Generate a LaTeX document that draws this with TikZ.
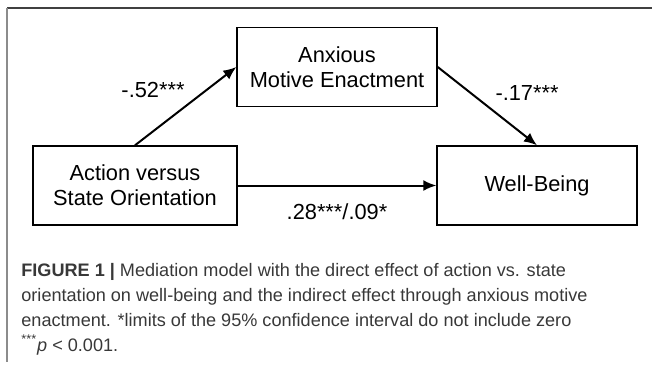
\documentclass[tikz,border=0pt]{standalone}
\usepackage{fontspec}
\setmainfont{Liberation Sans}
\usepackage{tikz}
\usetikzlibrary{arrows.meta}

\begin{document}
\begin{tikzpicture}[x=0.5pt,y=-0.5pt,
  box/.style={draw, line width=0.7pt, minimum width=100pt, minimum height=39.5pt, inner sep=0pt, align=center, font=\fontsize{10.9}{12.5}\selectfont},
  coef/.style={font=\fontsize{10.9}{12.5}\selectfont},
  effect/.style={line width=1pt, -{Latex[length=6.5pt,width=5.5pt]}}]
\useasboundingbox (0,0) rectangle (652,369);
%frame
\draw[line width=0.8pt, black!75] (7,8) -- (652,8);
\draw[line width=0.8pt, black!45] (7,8) -- (7,362);
%boxes
\node[box] (anx) at (337,67) {Anxious\\Motive Enactment};
\node[box, minimum width=102pt] (avs) at (135,185.5) {Action versus\\State Orientation};
\node[box] (wb) at (537,185.5) {Well-Being};
%paths
\draw[effect] (avs.north) -- (anx.west);
\draw[effect] (anx.east) -- (wb.north);
\draw[effect] (avs.east) -- (wb.west);
\node[coef] (a) at (153,90) {-.52***};
\node[coef] (b) at (527,93) {-.17***};
\node[coef] (c) at (337,212) {.28***/.09*};
%caption
\node[anchor=north west, inner sep=0pt, align=left, text=black!78, font=\fontsize{9.05}{12.5}\selectfont] (cap) at (21,263)
 {\textbf{FIGURE 1 |} Mediation model with the direct effect of action vs. state\\
  orientation on well-being and the indirect effect through anxious motive\\
  enactment. *limits of the 95\% confidence interval do not include zero\\
  \textsuperscript{***}\textit{p} < 0.001.};
\end{tikzpicture}
\end{document}
